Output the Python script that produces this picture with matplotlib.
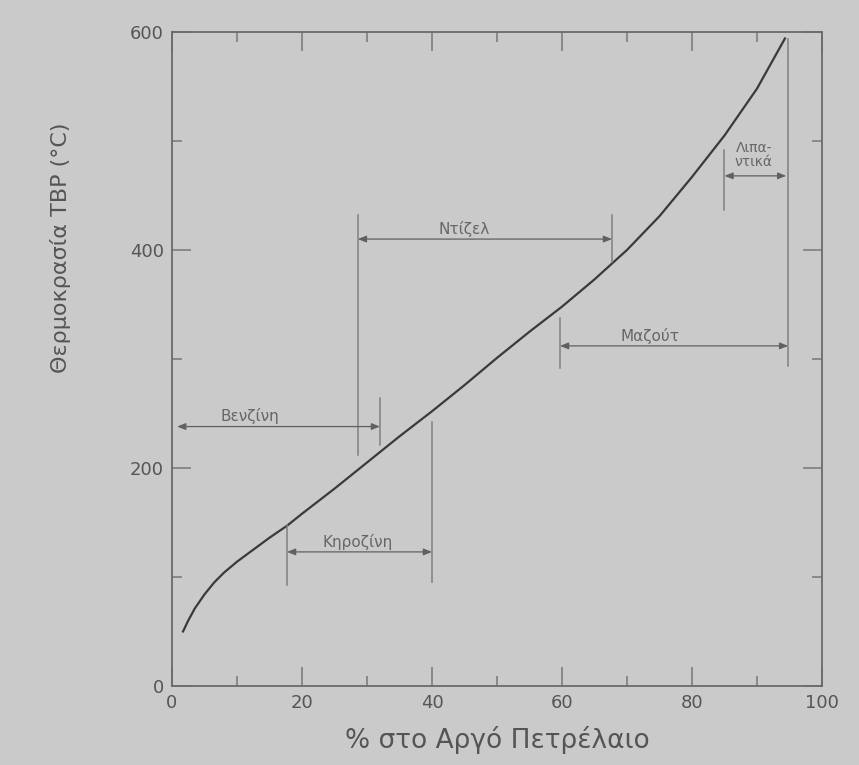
import matplotlib.pyplot as plt
from matplotlib.ticker import MultipleLocator

# TBP curve
pct = [1.7, 2.5, 3.5, 5, 6.5, 8, 10, 12.5, 15, 17.7, 20, 25, 30, 35, 40, 45, 50,
       55, 60, 65, 70, 75, 80, 85, 90, 94.3]
tbp = [50, 60, 71, 84, 95, 104, 114, 125, 136, 147, 158, 181, 205, 229, 252, 276, 301,
       325, 348, 373, 400, 431, 467, 505, 548, 594]

# fractions: name, start %, end %, arrow temperature, label x
cuts = ['Βενζίνη', 'Κηροζίνη', 'Ντίζελ', 'Μαζούτ', 'Λιπα-\nντικά']
cut_lo = [0.8, 17.7, 28.6, 59.7, 85.0]
cut_hi = [32.0, 40.0, 67.7, 94.8, 94.5]
cut_t = [238, 123, 410, 312, 468]
label_x = [12, 28.6, 45, 73.5, 89.5]

# vertical marker lines: x, from T, to T
vlines_x = [28.6, 32.0, 17.7, 40.0, 67.7, 59.7, 94.8, 85.0]
vlines_lo = [212, 221, 93, 95, 389, 292, 294, 437]
vlines_hi = [432, 264, 148, 242, 432, 338, 594, 492]

bg = '#cacaca'
plt.rcParams['font.family'] = ['DejaVu Sans']

fig = plt.figure(figsize=(8.59, 7.65), dpi=100, facecolor=bg)
ax = fig.add_axes([0.2002, 0.1033, 0.7567, 0.8549])
ax.set_facecolor(bg)

ax.plot(pct, tbp, color='#3a3a3a', lw=1.6)

for x, lo, hi in zip(vlines_x, vlines_lo, vlines_hi):
    ax.plot([x, x], [lo, hi], color='#808080', lw=1.1)

for name, a, b, t, lx in zip(cuts, cut_lo, cut_hi, cut_t, label_x):
    ax.annotate('', xy=(a, t), xytext=(b, t),
                arrowprops=dict(arrowstyle='<|-|>,head_length=0.5,head_width=0.2',
                                color='#606060', lw=0.9, shrinkA=0, shrinkB=0))
    if '\n' in name:
        ax.text(lx, t + 6, name, ha='center', va='bottom',
                fontsize=10, color='#666666', linespacing=1.05)
    else:
        ax.text(lx, t + 2, name, ha='center', va='bottom', fontsize=11, color='#666666')

ax.set_xlim(0, 100)
ax.set_ylim(0, 600)
ax.xaxis.set_major_locator(MultipleLocator(20))
ax.xaxis.set_minor_locator(MultipleLocator(10))
ax.yaxis.set_major_locator(MultipleLocator(200))
ax.yaxis.set_minor_locator(MultipleLocator(100))
ax.tick_params(which='both', direction='in', top=True, right=True, colors='#777777',
               labelcolor='#555555', labelsize=13, width=1.1)
ax.tick_params(which='major', length=14, pad=6)
ax.tick_params(which='minor', length=7)
for s in ax.spines.values():
    s.set_color('#6a6a6a')
    s.set_linewidth(1.3)

ax.set_xlabel('% στο Αργό Πετρέλαιο', fontsize=19, color='#555555', labelpad=10)
ax.set_ylabel('Θερμοκρασία TBP (°C)', fontsize=16, color='#555555')
ax.yaxis.set_label_coords(-0.155, 0.67)

fig.savefig('out.png', dpi=100, facecolor=bg)
